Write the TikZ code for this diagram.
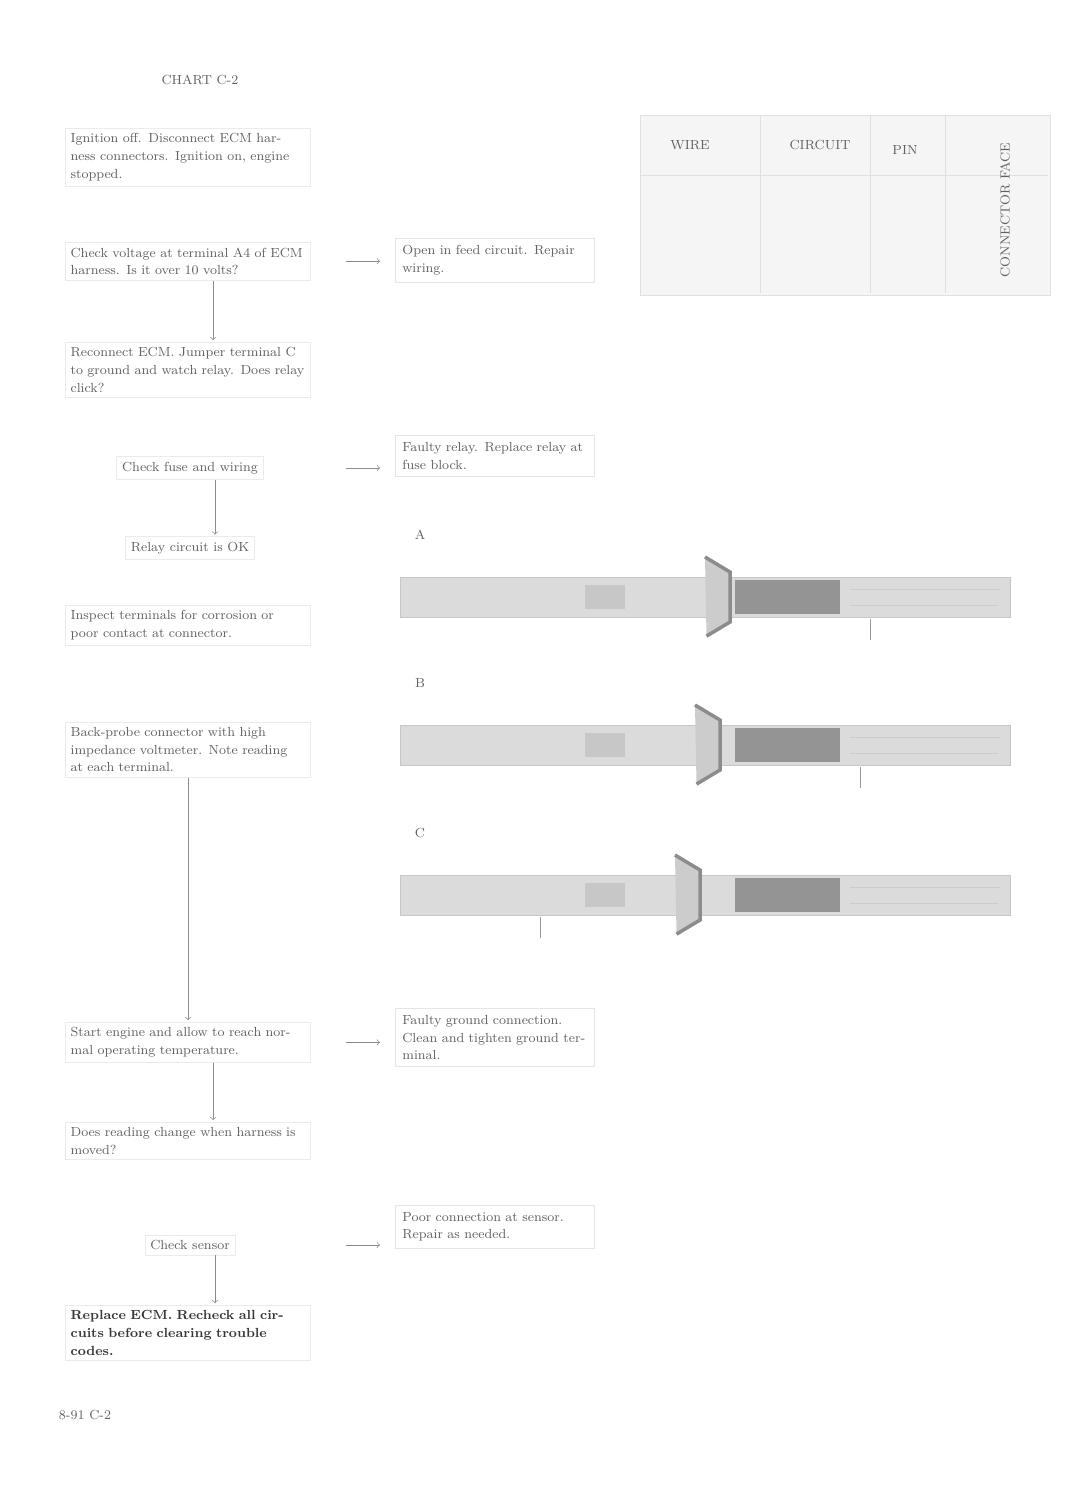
\documentclass[tikz,border=0pt]{standalone}
\usepackage{tikz}
\usepackage{xcolor}
\usetikzlibrary{calc,positioning}

\begin{document}
\begin{tikzpicture}[x=0.02cm,y=-0.02cm,shorten >=1pt,node distance=1.6cm]
  \tikzstyle{every node}=[text=black!62,font=\fontsize{7.5}{10}\selectfont]
  \tikzstyle{stepbox}=[draw=black!8,align=left,text width=4.7cm,inner sep=3pt,anchor=north west]
  \tikzstyle{stepline}=[draw=black!8,inner sep=3pt]
  \tikzstyle{resultbox}=[draw=black!10,align=left,text width=3.7cm,inner sep=4pt,anchor=north west]
  \tikzstyle{flow}=[draw=black!45,thin]
  \tikzstyle{sideflow}=[draw=black!45,thin,shorten <=0.7cm,shorten >=0.3cm]
  \useasboundingbox (0,0) rectangle (1080,1501);
  % left column
  \node (title) at (200,80) {CHART C-2};
  \node[stepbox] (s1) at (65,128) {Ignition off. Disconnect ECM harness connectors. Ignition on, engine stopped.};
  \node[stepbox] (s2) at (65,242) {Check voltage at terminal A4 of ECM harness. Is it over 10 volts?};
  \node[stepbox] (s3) at (65,342) {Reconnect ECM. Jumper terminal C to ground and watch relay. Does relay click?};
  \node[stepline] (s4) at (190,468) {Check fuse and wiring};
  \node[stepline] (s5) at (190,548) {Relay circuit is OK};
  \node[stepbox] (s6) at (65,605) {Inspect terminals for corrosion or poor contact at connector.};
  \node[stepbox] (s7) at (65,722) {Back-probe connector with high impedance voltmeter. Note reading at each terminal.};
  \node[stepbox] (s8) at (65,1022) {Start engine and allow to reach normal operating temperature.};
  \node[stepbox] (s9) at (65,1122) {Does reading change when harness is moved?};
  \node[stepline] (s10) at (190,1245) {Check sensor};
  \node[stepbox,text=black!78] (s11) at (65,1305) {\bfseries Replace ECM. Recheck all circuits before clearing trouble codes.};
  \node (s12) at (85,1415) {8-91 C-2};
  % results
  \node[resultbox] (r2) at (395,238) {Open in feed circuit. Repair wiring.};
  \node[resultbox] (r4) at (395,435) {Faulty relay. Replace relay at fuse block.};
  \node[resultbox] (r8) at (395,1008) {Faulty ground connection. Clean and tighten ground terminal.};
  \node[resultbox] (r10) at (395,1205) {Poor connection at sensor. Repair as needed.};
  % connectors
  \draw[->,flow] ([xshift=0.5cm]s2.south) -- ([xshift=0.5cm]s2.south |- s3.north);
  \draw[->,flow] ([xshift=0.5cm]s4.south) -- ([xshift=0.5cm]s4.south |- s5.north);
  \draw[->,flow] ([xshift=0.5cm]s8.south) -- ([xshift=0.5cm]s8.south |- s9.north);
  \draw[->,flow] ([xshift=0.5cm]s10.south) -- ([xshift=0.5cm]s10.south |- s11.north);
  \draw[->,flow] (s7.south) -- (s8.north);
  \draw[->,sideflow] (s2.east) -- (s2.east -| r2.west);
  \draw[->,sideflow] (s4.east -| s2.east) -- (s4.east -| r4.west);
  \draw[->,sideflow] (s8.east) -- (s8.east -| r8.west);
  \draw[->,sideflow] (s10.east -| s2.east) -- (s10.east -| r10.west);
  % terminal table
  \draw[black!12,fill=black!4] (640,115) rectangle (1050,295);
  \draw[black!12] (640,175) -- (1050,175);
  \foreach \xc in {760,870,945} \draw[black!12] (\xc,115) -- (\xc,295);
  \node (th1) at (690,145) {WIRE};
  \node (th2) at (820,145) {CIRCUIT};
  \node (th3) at (905,150) {PIN};
  \node[rotate=90] (th4) at (1005,210) {CONNECTOR FACE};
  % connector views
  \foreach \yc/\bx/\lab/\tx in {597/705/A/870,745/695/B/860,895/675/C/540}{
    \node (lab\lab) at (420,\yc-62) {\lab};
    \draw[black!22,fill=black!14] (400,\yc-20) rectangle (1010,\yc+20);
    \fill[black!22] (585,\yc-12) rectangle (625,\yc+12);
    \draw[black!45,line width=2pt,fill=black!20] (\bx,\yc-40) -- (\bx+25,\yc-25) -- (\bx+25,\yc+25) -- (\bx,\yc+40);
    \fill[black!42] (735,\yc-17) rectangle (840,\yc+17);
    \draw[black!20] (850,\yc-8) -- (1000,\yc-8) (850,\yc+8) -- (1000,\yc+8);
    \draw[black!40] (\tx,\yc+22) -- (\tx,\yc+45);
  }
\end{tikzpicture}
\end{document}
